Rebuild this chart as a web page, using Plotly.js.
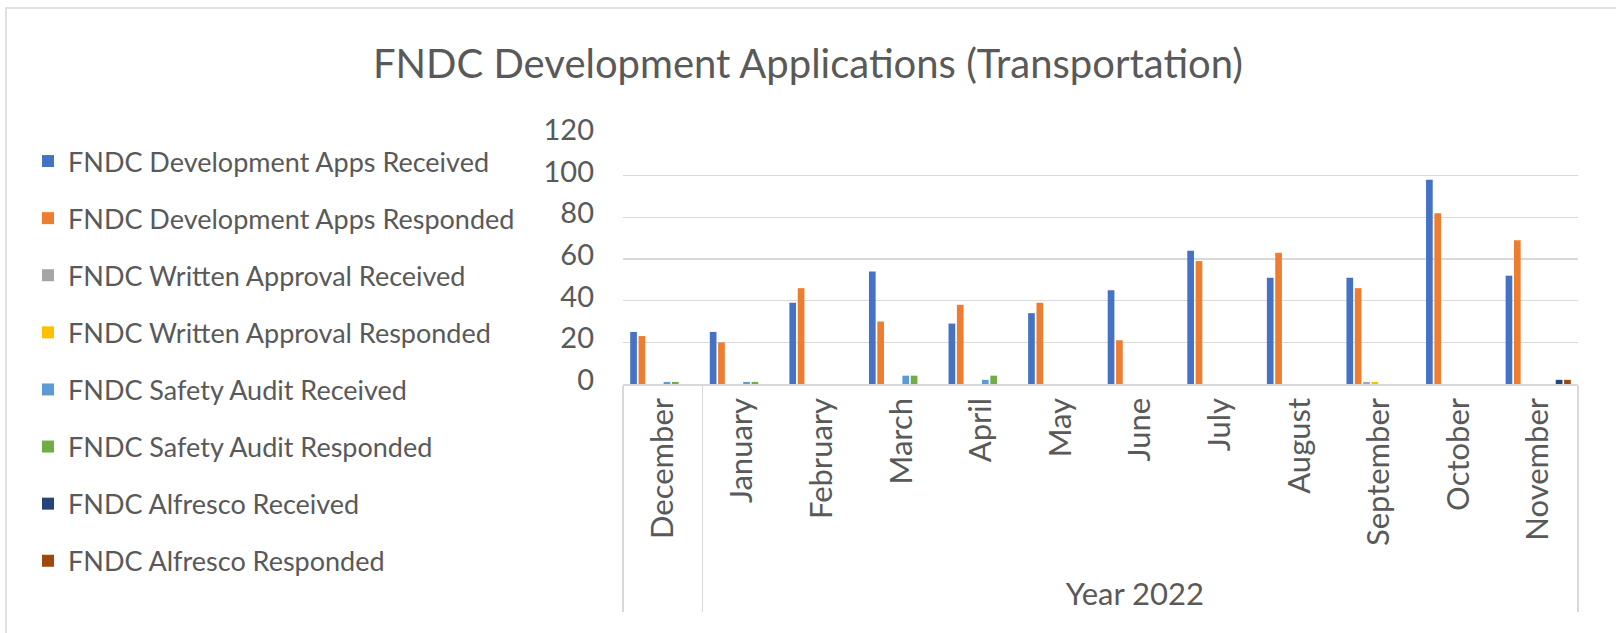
<!DOCTYPE html>
<html>
<head>
<meta charset="utf-8">
<script src="https://cdn.plot.ly/plotly-3.0.1.min.js"></script>
<style>html,body{margin:0;padding:0;background:#fff;}#chart{width:1616px;height:633px;}</style>
</head>
<body>
<div id="chart"></div>
<script>
const groups = [" ", "Year 2022", "Year 2022", "Year 2022", "Year 2022", "Year 2022", "Year 2022", "Year 2022", "Year 2022", "Year 2022", "Year 2022", "Year 2022"];
const months = ["December", "January", "February", "March", "April", "May", "June", "July", "August", "September", "October", "November"];

const seriesNames = [
  "FNDC Development Apps Received",
  "FNDC Development Apps Responded",
  "FNDC Written Approval Received",
  "FNDC Written Approval Responded",
  "FNDC Safety Audit Received",
  "FNDC Safety Audit Responded",
  "FNDC Alfresco Received",
  "FNDC Alfresco Responded"
];
const devAppsReceived   = [25, 25, 39, 54, 29, 34, 45, 64, 51, 51, 98, 52];
const devAppsResponded  = [23, 20, 46, 30, 38, 39, 21, 59, 63, 46, 82, 69];
const writtenReceived   = [0, 0, 0, 0, 0, 0, 0, 0, 0, 1, 0, 0];
const writtenResponded  = [0, 0, 0, 0, 0, 0, 0, 0, 0, 1, 0, 0];
const safetyReceived    = [1, 1, 0, 4, 2, 0, 0, 0, 0, 0, 0, 0];
const safetyResponded   = [1, 1, 0, 4, 4, 0, 0, 0, 0, 0, 0, 0];
const alfrescoReceived  = [0, 0, 0, 0, 0, 0, 0, 0, 0, 0, 0, 2];
const alfrescoResponded = [0, 0, 0, 0, 0, 0, 0, 0, 0, 0, 0, 2];
const yTicks = [0, 20, 40, 60, 80, 100, 120];

const seriesValues = [devAppsReceived, devAppsResponded, writtenReceived, writtenResponded,
  safetyReceived, safetyResponded, alfrescoReceived, alfrescoResponded];
const colors = ["#4472C4", "#ED7D31", "#A5A5A5", "#FFC000", "#5B9BD5", "#70AD47", "#264478", "#9E480E"];

const FONT = "Lato, 'Open Sans', sans-serif";
const TXT = "#595959";

const traces = seriesNames.map((n, i) => ({
  type: "bar",
  name: n,
  legendgroup: "g" + i,
  x: [groups, months],
  y: seriesValues[i],
  marker: {color: colors[i], line: {width: 0}},
  hoverinfo: "name+y"
}));

const L = 623, R = 1578, T = 134, B = 384;
const W = R - L, H = B - T;
function px(x) { return (x - L) / W; }
function py(y) { return (B - y) / H; }

const layout = {
  width: 1616, height: 633,
  paper_bgcolor: "#ffffff", plot_bgcolor: "#ffffff",
  margin: {l: L, r: 1616 - R, t: T, b: 633 - B, pad: 0},
  font: {family: FONT, color: TXT},
  title: {text: "FNDC Development Applications (Transportation)", font: {family: FONT, size: 40, color: TXT},
          x: 0.5, xref: "container", xanchor: "center", y: 1 - 64 / 633, yref: "container", yanchor: "middle"},
  barmode: "group",
  bargap: 0.16,
  bargroupgap: 0.2,
  showlegend: true,
  legend: {x: px(28), xanchor: "left", y: py(137), yanchor: "top", orientation: "v",
           font: {family: FONT, size: 27, color: TXT}, tracegroupgap: 19, maxheight: 620,
           bgcolor: "rgba(0,0,0,0)", traceorder: "grouped"},
  xaxis: {
    type: "multicategory",
    tickangle: -90,
    tickfont: {family: FONT, size: 31, color: TXT},
    showline: true, linecolor: "#D9D9D9", linewidth: 1.5,
    showdividers: true, dividercolor: "#D9D9D9", dividerwidth: 1.5,
    ticks: "", showgrid: false, automargin: false
  },
  yaxis: {
    range: [0, 120], tickvals: yTicks, ticktext: yTicks.map(String),
    tickfont: {family: FONT, size: 29, color: TXT},
    showgrid: true, gridcolor: "#D9D9D9", gridwidth: 1.5,
    zeroline: false, showline: false, ticks: "", ticklabelstandoff: 28, ticklabelshift: -4,
    automargin: false
  },
  shapes: [{type: "rect", xref: "paper", yref: "paper",
            x0: px(6), x1: px(1625), y0: py(645), y1: py(8),
            line: {color: "#D9D9D9", width: 1.5}, fillcolor: "rgba(0,0,0,0)", layer: "below"}]
};

Plotly.newPlot("chart", traces, layout, {staticPlot: true, displayModeBar: false});
</script>
</body>
</html>
